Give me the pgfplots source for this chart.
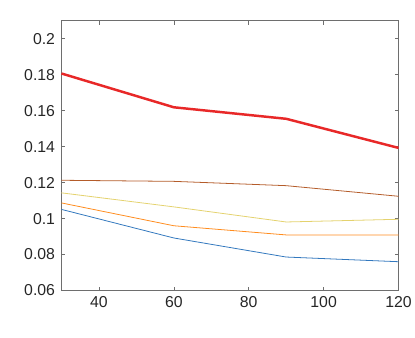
\documentclass[border=0pt]{standalone}
\usepackage{pgfplots}
\pgfplotsset{compat=1.18}
\usepackage{fontspec}
\setmainfont{Liberation Sans}

\definecolor{cred}{RGB}{232,40,40}
\definecolor{cbrown}{RGB}{180,92,42}
\definecolor{cyellow}{RGB}{228,210,110}
\definecolor{corange}{RGB}{255,140,30}
\definecolor{cblue}{RGB}{50,120,190}
\definecolor{caxis}{RGB}{110,110,110}

\begin{document}
\begin{tikzpicture}[x=1bp,y=1bp]
\begin{axis}[
    width=340bp, height=272bp,
    scale only axis,
    xmin=30, xmax=120,
    ymin=0.06, ymax=0.21,
    xtick={40,60,80,100,120},
    ytick={0.06,0.08,0.1,0.12,0.14,0.16,0.18,0.2},
    yticklabels={0.06,0.08,0.1,0.12,0.14,0.16,0.18,0.2},
    tick align=inside,
    tick pos=both,
    major tick length=4bp,
    axis line style={caxis, line width=0.8pt},
    every tick/.style={caxis, line width=0.6pt},
    tick label style={font=\fontsize{16}{18}\selectfont, text=black!85},
    /pgf/number format/assume math mode=true,
    xticklabel style={yshift=-3bp},
    yticklabel style={xshift=-3bp},
    clip=false,
]
\addplot[cblue, line width=0.8pt] coordinates {(30,0.1051) (60,0.0892) (90,0.0786) (120,0.0760)};
\addplot[corange, line width=0.8pt] coordinates {(30,0.1087) (60,0.0960) (90,0.0909) (120,0.0909)};
\addplot[cyellow, line width=0.8pt] coordinates {(30,0.1143) (60,0.1065) (90,0.0981) (120,0.0996)};
\addplot[cbrown, line width=0.8pt] coordinates {(30,0.1213) (60,0.1207) (90,0.1183) (120,0.1124)};
\addplot[cred, line width=2.5pt] coordinates {(30,0.1807) (60,0.1619) (90,0.1555) (120,0.1393)};
\end{axis}
\path ([xshift=-62bp,yshift=-47bp]current axis.south west) rectangle ([xshift=13bp,yshift=21bp]current axis.north east);
\end{tikzpicture}
\end{document}
